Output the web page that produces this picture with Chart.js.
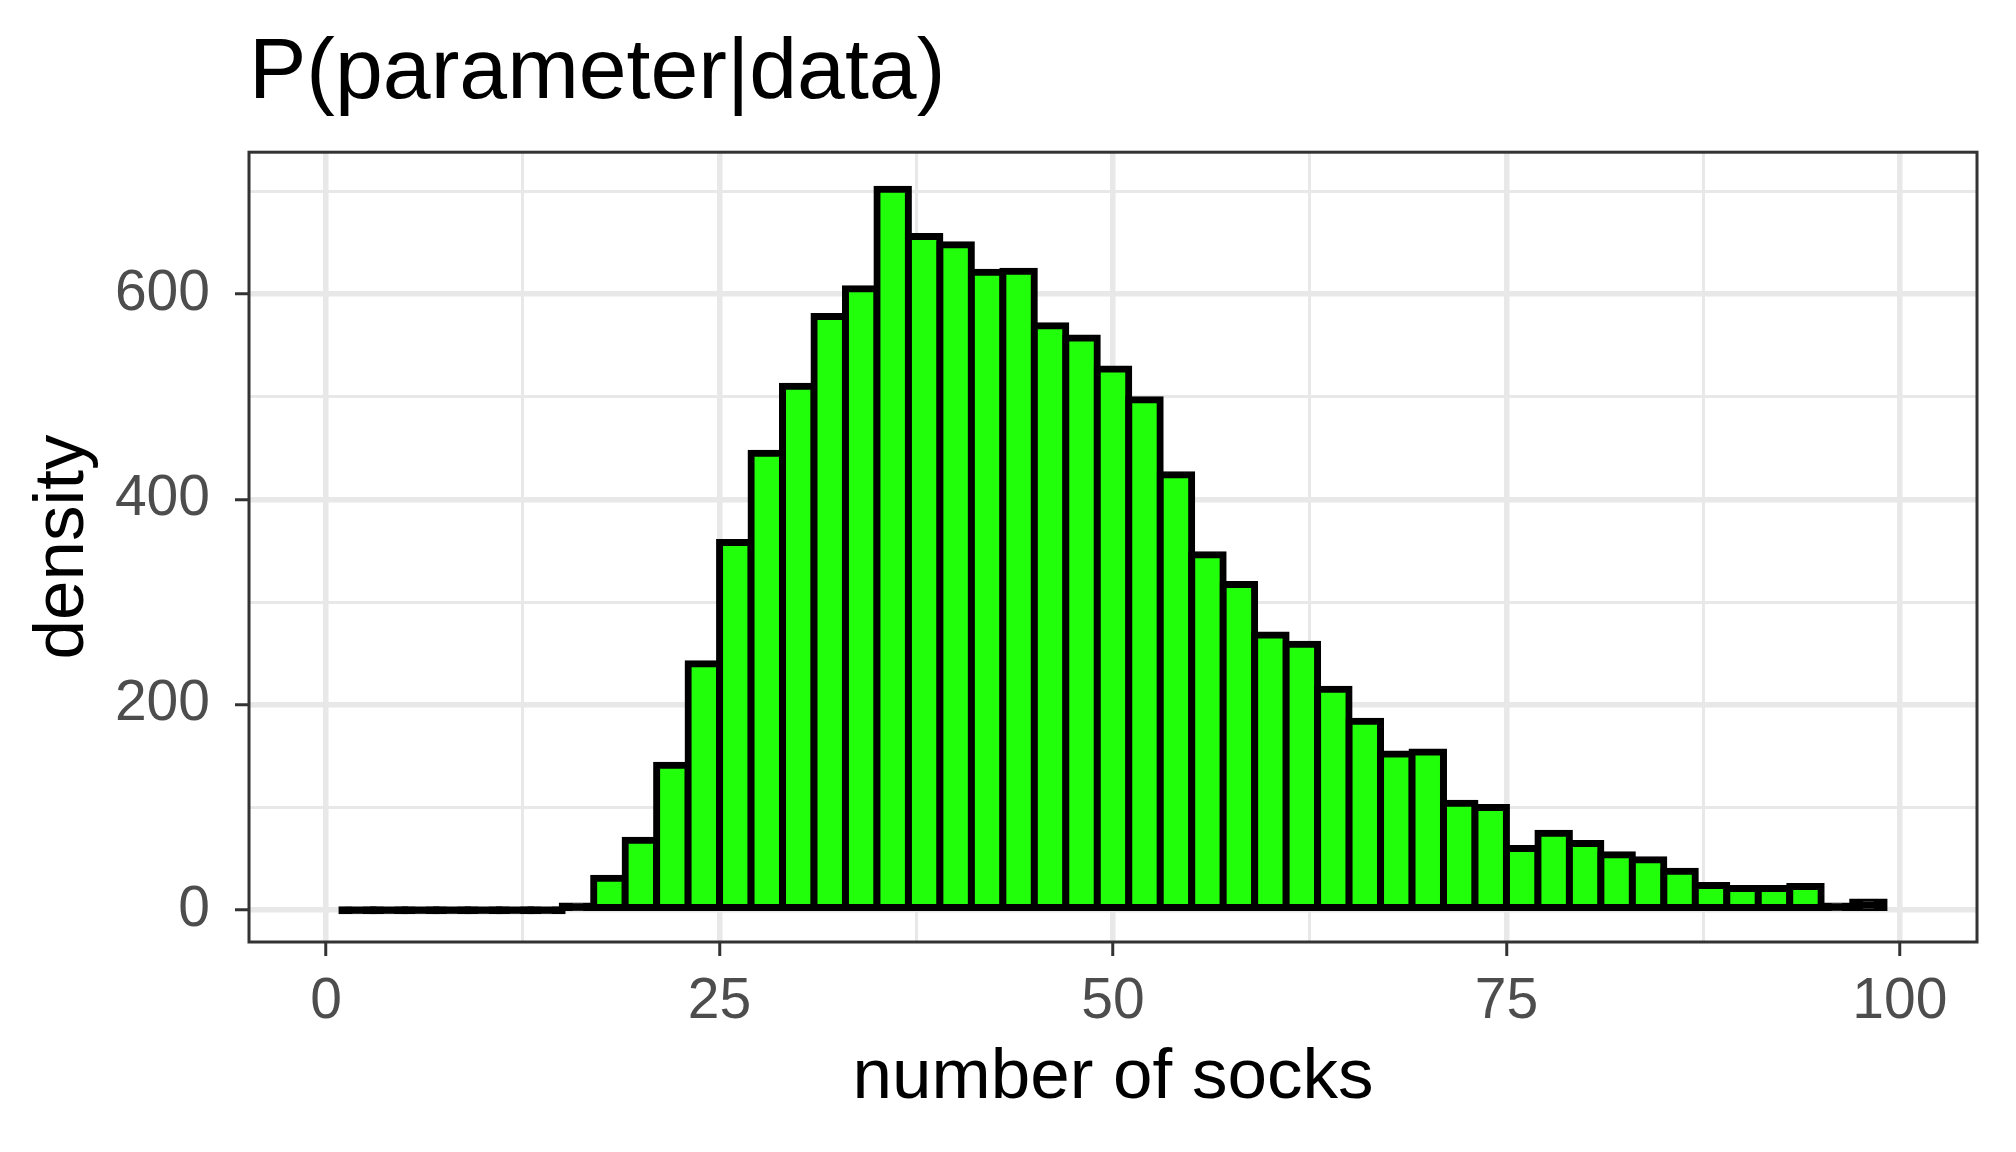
<!DOCTYPE html>
<html>
<head>
<meta charset="utf-8">
<script src="https://cdn.jsdelivr.net/npm/chart.js@4/dist/chart.umd.min.js"></script>
<style>
  html, body { margin: 0; padding: 0; background: #ffffff; }
</style>
</head>
<body>
<canvas id="socksChart" width="2016" height="1152"></canvas>
<script>
// histogram bins (width 2), centre of each bin
const binCenters = [2, 4, 6, 8, 10, 12, 14, 16, 18, 20, 22, 24, 26, 28, 30, 32, 34, 36, 38, 40,
                    42, 44, 46, 48, 50, 52, 54, 56, 58, 60, 62, 64, 66, 68, 70, 72, 74, 76, 78, 80,
                    82, 84, 86, 88, 90, 92, 94, 96, 98];
const density = [0, 0, 0, 0, 0, 0, 0, 4, 31, 68, 141, 240, 358, 445, 510, 578, 605, 702, 656, 648,
                 621, 622, 569, 557, 527, 497, 424, 346, 317, 268, 259, 215, 184, 152, 154, 104, 100, 60, 75, 65,
                 54, 49, 38, 24, 21, 21, 23, 4, 8];
const xTickLabels = [0, 25, 50, 75, 100];
const yTickLabels = [0, 200, 400, 600];

Chart.defaults.font.family = 'Liberation Sans';

const panelBorder = {
    id: 'panelBorder',
    afterDatasetsDraw(chart) {
        const { ctx, chartArea: a } = chart;
        ctx.save();
        ctx.strokeStyle = '#333333';
        ctx.lineWidth = 3;
        ctx.strokeRect(a.left, a.top, a.right - a.left, a.bottom - a.top);
        ctx.restore();
    }
};

const gridColor = '#E8E8E8';
const green = '#22FF0A';

const ctx = document.getElementById('socksChart').getContext('2d');
const chart = new Chart(ctx, {
    type: 'bar',
    data: {
        datasets: [{
            label: 'density',
            data: binCenters.map((x, i) => ({ x: x, y: density[i] })),
            // very short bins are covered entirely by the outline
            backgroundColor: (c) => (c.raw && c.raw.y < 10) ? '#000000' : green,
            borderColor: '#000000',
            borderWidth: 7,
            borderSkipped: false,
            inflateAmount: 3.5,
            minBarLength: 1,
            barPercentage: 1,
            categoryPercentage: 1
        }]
    },
    options: {
        responsive: false,
        animation: false,
        layout: { padding: { left: 0, right: 39, top: 0, bottom: 0 } },
        plugins: {
            legend: { display: false },
            tooltip: { enabled: false },
            title: {
                display: true,
                text: 'P(parameter|data)',
                align: 'start',
                fullSize: false,
                color: '#000000',
                font: { size: 86, weight: 'normal' },
                padding: { top: 23, bottom: 26 }
            }
        },
        scales: {
            x: {
                type: 'linear',
                min: -4.9,
                max: 104.9,
                offset: false,
                afterFit: (scale) => { scale.height = 210; },
                border: { display: false },
                grid: {
                    offset: false,
                    color: gridColor,
                    lineWidth: (c) => xTickLabels.includes(c.tick.value) ? 5.5 : 3,
                    tickLength: 14,
                    tickColor: (c) => xTickLabels.includes(c.tick.value) ? '#333333' : 'rgba(0,0,0,0)',
                    tickWidth: 3
                },
                ticks: {
                    stepSize: 12.5,
                    includeBounds: false,
                    autoSkip: false,
                    maxRotation: 0,
                    padding: 12,
                    color: '#4D4D4D',
                    font: { size: 57 },
                    callback: (v) => xTickLabels.includes(v) ? String(v) : ''
                },
                title: {
                    display: true,
                    text: 'number of socks',
                    color: '#000000',
                    font: { size: 71 },
                    padding: { top: 0, bottom: 31 }
                }
            },
            y: {
                type: 'linear',
                min: -31,
                max: 738,
                afterFit: (scale) => { scale.width = 249; },
                border: { display: false },
                grid: {
                    color: gridColor,
                    lineWidth: (c) => yTickLabels.includes(c.tick.value) ? 5.5 : 3,
                    tickLength: 14,
                    tickColor: (c) => yTickLabels.includes(c.tick.value) ? '#333333' : 'rgba(0,0,0,0)',
                    tickWidth: 3
                },
                ticks: {
                    stepSize: 100,
                    includeBounds: false,
                    autoSkip: false,
                    padding: 25,
                    color: '#4D4D4D',
                    font: { size: 57 },
                    callback: (v) => yTickLabels.includes(v) ? String(v) : ''
                },
                title: {
                    display: true,
                    text: 'density',
                    color: '#000000',
                    font: { size: 71 },
                    padding: { top: 21, bottom: 0 }
                }
            }
        }
    },
    plugins: [panelBorder]
});
</script>
</body>
</html>
